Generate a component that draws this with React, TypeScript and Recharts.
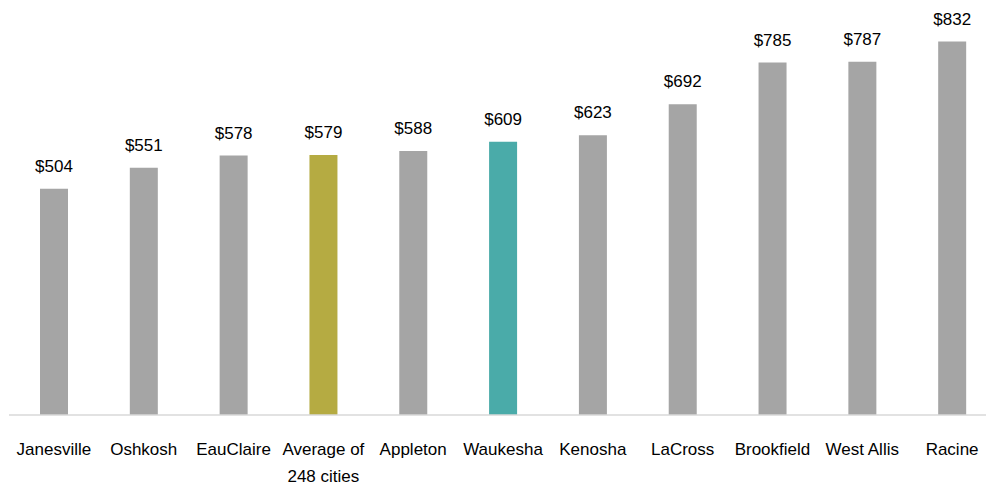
import { BarChart, Bar, XAxis, YAxis, Cell, LabelList } from "recharts"

// cities sorted by value, as in the source chart
const cities = [
  "Janesville",
  "Oshkosh",
  "EauClaire",
  "Average of\n248 cities",
  "Appleton",
  "Waukesha",
  "Kenosha",
  "LaCross",
  "Brookfield",
  "West Allis",
  "Racine",
]
const amounts = [504, 551, 578, 579, 588, 609, 623, 692, 785, 787, 832]

const data = cities.map((city, i) => ({ city, amount: amounts[i] }))

const FONT = "'Liberation Sans', Arial, sans-serif"

function barColor(city: string) {
  if (city.startsWith("Average")) return "#b5ab42"
  if (city === "Waukesha") return "#4aaba9"
  return "#a5a5a5"
}

// multi-line tick, splits on \n
function CityTick(props: any) {
  const { x, y, payload } = props
  const lines = String(payload.value).split("\n")
  return (
    <text x={x} y={y} textAnchor="middle" fill="#000" fontSize={17} fontFamily={FONT}>
      {lines.map((line, i) => (
        <tspan key={i} x={x} dy={i === 0 ? 40 : 27}>
          {line}
        </tspan>
      ))}
    </text>
  )
}

export default function App() {
  return (
    <div style={{ position: "absolute", left: 0, top: 0, width: 986, height: 487, overflow: "hidden", background: "#fff" }}>
      <BarChart
        width={1000}
        height={487}
        data={data}
        margin={{ top: 11, right: 3, bottom: 12, left: 9 }}
      >
        <XAxis
          dataKey="city"
          interval={0}
          height={60}
          tickLine={false}
          tickSize={0}
          tickMargin={0}
          axisLine={{ stroke: "#d9d9d9", strokeWidth: 1.5 }}
          tick={<CityTick />}
        />
        <YAxis hide domain={[0, 900]} />
        <Bar dataKey="amount" barSize={28} isAnimationActive={false}>
          {data.map((d) => (
            <Cell key={d.city} fill={barColor(d.city)} />
          ))}
          <LabelList
            dataKey="amount"
            position="top"
            offset={17}
            formatter={(v: any) => `$${v}`}
            fill="#000"
            fontSize={17}
            fontFamily={FONT}
          />
        </Bar>
      </BarChart>
    </div>
  )
}
